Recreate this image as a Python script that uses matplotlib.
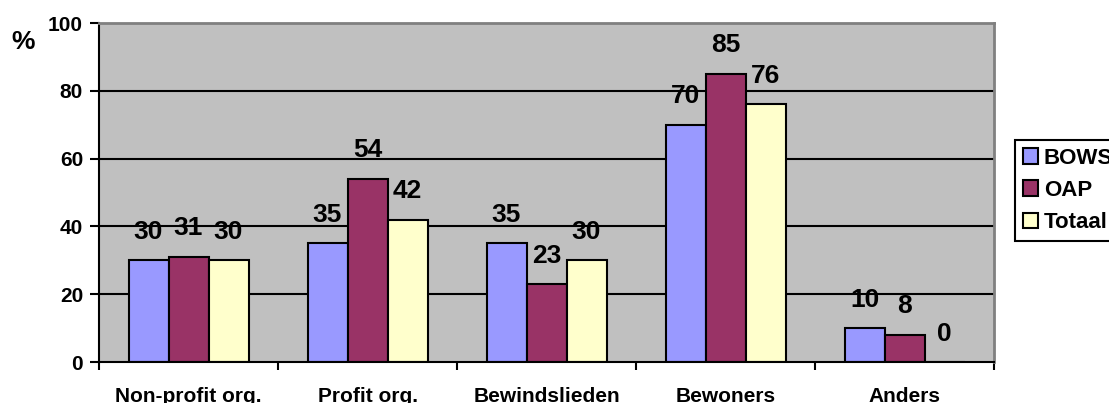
import matplotlib
matplotlib.use("Agg")
import matplotlib.pyplot as plt
import numpy as np
from matplotlib.patches import Patch

categories = ["Non-profit org.", "Profit org.", "Bewindslieden", "Bewoners", "Anders"]
series_names = ["BOWS", "OAP", "Totaal"]
bows = [30, 35, 35, 70, 10]
oap = [31, 54, 23, 85, 8]
totaal = [30, 42, 30, 76, 0]
y_ticks = [0, 20, 40, 60, 80, 100]

colors = ["#9999FF", "#993366", "#FFFFCC"]

plt.rcParams["font.family"] = ["Liberation Sans", "DejaVu Sans"]
plt.rcParams["font.weight"] = "bold"

fig = plt.figure(figsize=(11.09, 4.03), dpi=100)
ax = fig.add_axes([99 / 1109, 1 - 362 / 403, (994 - 99) / 1109, (362 - 23) / 403])
ax.set_facecolor("#C0C0C0")

x = np.arange(len(categories))
width = 40 / 179
values = [bows, oap, totaal]

for yv in y_ticks[1:-1]:
    ax.axhline(yv, color="black", lw=1.5, zorder=1)

for i, (name, vals, col) in enumerate(zip(series_names, values, colors)):
    pos = x + (i - 1) * width
    ax.bar(pos, vals, width, color=col, edgecolor="black", linewidth=1.5, zorder=2, label=name)
    for px, v in zip(pos, vals):
        ax.annotate(str(v), (px, v), xytext=(0, 20.5), textcoords="offset points",
                    ha="center", va="center", fontsize=19, fontweight="bold", zorder=3)

ax.set_xlim(-0.5, len(categories) - 0.5)
ax.set_ylim(0, 100)
ax.set_yticks(y_ticks)
ax.set_yticklabels([str(t) for t in y_ticks], fontsize=15, fontweight="bold")
ax.set_xticks(np.arange(-0.5, len(categories), 1.0))
ax.set_xticklabels([])
ax.set_xticks(x, minor=True)
ax.set_xticklabels(categories, minor=True, fontsize=15, fontweight="bold")
ax.tick_params(axis="x", which="minor", length=0, pad=18)
ax.tick_params(axis="x", which="major", length=6, width=1.5, direction="out")
ax.tick_params(axis="y", length=6.5, width=1.5, direction="out", pad=5)

for side in ["left", "bottom"]:
    ax.spines[side].set_color("black")
    ax.spines[side].set_linewidth(1.5)
for side in ["top", "right"]:
    ax.spines[side].set_color("#808080")
    ax.spines[side].set_linewidth(2)

fig.text(23 / 1109, 1 - 42 / 403, "%", fontsize=19, fontweight="bold", ha="center", va="center")

handles = [Patch(facecolor=c, edgecolor="black", linewidth=1.5) for c in colors]
leg = fig.legend(handles, series_names, loc="upper left",
                 bbox_to_anchor=(1015 / 1109, 1 - 140 / 403),
                 prop={"size": 16, "weight": "bold"}, frameon=True, fancybox=False,
                 edgecolor="black", framealpha=1, handlelength=0.68, handleheight=0.68,
                 handletextpad=0.27, borderpad=0.35, labelspacing=0.5, borderaxespad=0)
leg.get_frame().set_linewidth(1.5)

fig.savefig("out.png", dpi=100)
